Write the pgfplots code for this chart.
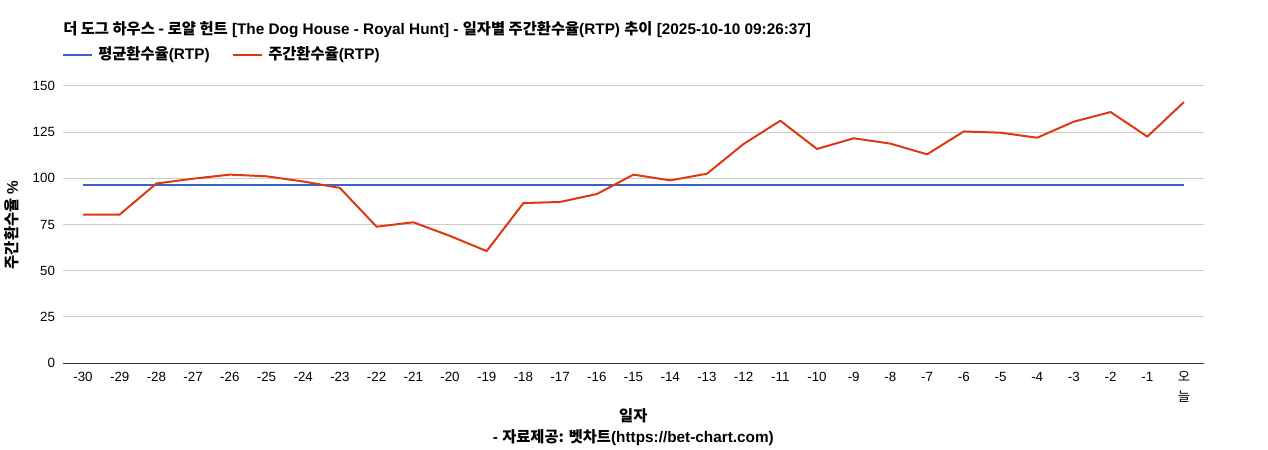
\documentclass[border=0pt]{standalone}
\usepackage{fontspec}
\setmainfont{Liberation Sans}
\newfontfamily\kr{Noto Sans CJK KR}
\usepackage{pgfplots}
\pgfplotsset{compat=1.18}

\definecolor{avgblue}{HTML}{3366CC}
\definecolor{wkred}{HTML}{DC3912}
\definecolor{gridgray}{HTML}{CCCCCC}

\pgfplotstableread{
x y
-30 80.4
-29 80.4
-28 97.2
-27 99.8
-26 102.0
-25 101.1
-24 98.3
-23 94.8
-22 73.8
-21 76.2
-20 68.8
-19 60.6
-18 86.6
-17 87.2
-16 91.5
-15 102.0
-14 98.9
-13 102.5
-12 118.6
-11 131.2
-10 115.9
-9 121.7
-8 118.8
-7 113.0
-6 125.4
-5 124.7
-4 122.0
-3 130.7
-2 135.9
-1 122.6
0 141.3
}\weekly

\pgfplotstableread{
x y
-30 96.4
0 96.4
}\average

\begin{document}
\begin{tikzpicture}
% canvas 1268x450 px, 1 px = 0.75 pt
\path (0,0) rectangle (951pt,337.5pt);
\begin{axis}[
  at={(47.25pt,65.25pt)}, anchor=south west,
  scale only axis,
  width=855.75pt, height=207.75pt,
  xmin=-30.545, xmax=0.545,
  ymin=0, ymax=150,
  xtick={-30,...,0},
  xticklabels={-30,-29,-28,-27,-26,-25,-24,-23,-22,-21,-20,-19,-18,-17,-16,-15,-14,-13,-12,-11,-10,-9,-8,-7,-6,-5,-4,-3,-2,-1,{\kr\begin{tabular}[t]{@{}c@{}}오\\[2pt]늘\end{tabular}}},
  xticklabel style={font=\fontsize{10}{13}\selectfont, anchor=base, yshift=-13.5pt},
  ytick={0,25,...,150},
  yticklabel style={font=\fontsize{10}{12}\selectfont, xshift=-2.5pt},
  /pgf/number format/assume math mode=true,
  ymajorgrids, grid style={gridgray, line width=0.75pt},
  major tick length=0pt,
  axis line style={draw=none},
  axis x line*=bottom,
  clip=false,
]
\addplot[avgblue, line width=1.5pt] table[x=x,y=y] {\average};
\addplot[wkred, line width=1.5pt, line join=round] table[x=x,y=y] {\weekly};
\draw[black!80, line width=0.75pt] (rel axis cs:0,0) -- (rel axis cs:1,0);
\end{axis}

\tikzset{lab/.style={inner sep=0pt, font=\bfseries\fontsize{11.5}{13}\selectfont}}
% title
\node[lab, anchor=west] at (47.25pt,315pt)
  {{\kr 더 도그 하우스 - 로얄 헌트} [The Dog House - Royal Hunt] - {\kr 일자별 주간환수율}(RTP) {\kr 추이} [2025-10-10 09:26:37]};
% legend
\draw[avgblue, line width=1.5pt] (47.25pt,296.25pt) -- (69pt,296.25pt);
\node[lab, anchor=west] at (73.5pt,296.25pt) {{\kr 평균환수율}(RTP)};
\draw[wkred, line width=1.5pt] (174.75pt,296.25pt) -- (196.5pt,296.25pt);
\node[lab, anchor=west] at (201pt,296.25pt) {{\kr 주간환수율}(RTP)};
% y label
\node[lab, rotate=90] at (9pt,168.75pt) {{\kr 주간환수율} \%};
% x label and source
\node[lab] at (475pt,26pt) {\kr 일자};
\node[lab] at (475pt,9.5pt) {- {\kr 자료제공: 벳차트}(https://bet-chart.com)};
\end{tikzpicture}
\end{document}
